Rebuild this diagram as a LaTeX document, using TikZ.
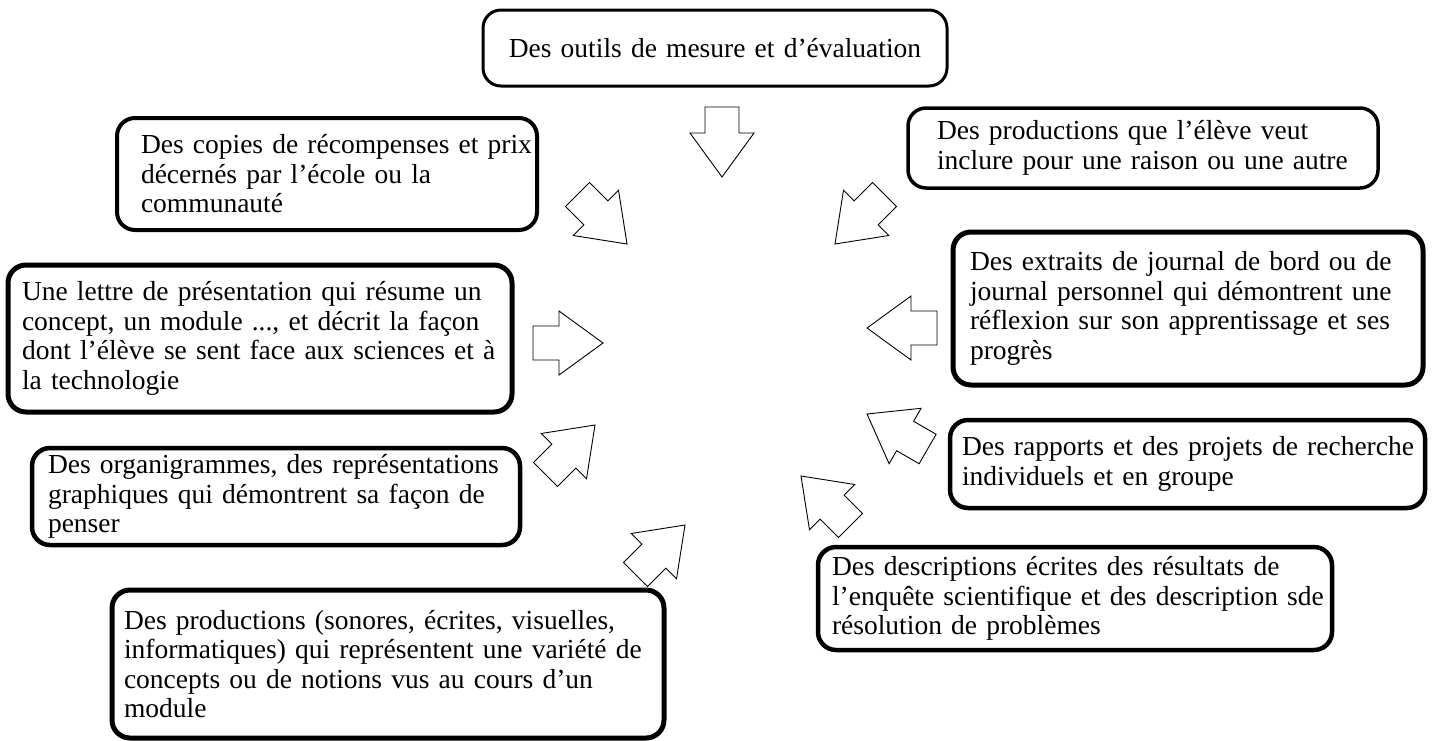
\documentclass[tikz,border=0pt]{standalone}
\usepackage{fontspec}
\setmainfont{Liberation Serif}
\usetikzlibrary{positioning}
\hyphenpenalty=10000
\exhyphenpenalty=10000

\begin{document}
\begin{tikzpicture}[x=1pt, y=-1pt,
        boite/.style={draw, rounded corners=18pt, line width=3.5pt, align=left,
                      inner xsep=0pt, inner ysep=0pt,
                      font=\fontsize{27.5}{29.5}\selectfont},
        retrait/.style={execute at begin node={\leftskip=#1pt\rightskip=-30pt plus 1fil\relax}},
        fleche/.pic={\draw[line width=0.9pt, fill=white] (0,0) -- (-44,32) -- (-44,17)
                     -- (-70,17) -- (-70,-17) -- (-44,-17) -- (-44,-32) -- cycle;}]
    \useasboundingbox (0,0) rectangle (1435,740);

    % les boites
    \node[boite, line width=3pt, align=center, minimum width=464pt, minimum height=76pt,
          text width=458pt] (outils) at (715,48) {Des outils de mesure et d’évaluation};
    \node[boite, line width=4pt, minimum width=420pt, minimum height=112pt,
          text width=416pt, retrait=22] (copies) at (327,174)
        {Des copies de récompenses et prix\\décernés par l’école ou la\\communauté};
    \node[boite, line width=5pt, minimum width=504pt, minimum height=147pt,
          text width=500pt, retrait=12] (lettre) at (260,338.5)
        {Une lettre de présentation qui résume un\\concept, un module ..., et décrit la façon\\dont l’élève se sent face aux sciences et à\\la technologie};
    \node[boite, line width=4.5pt, minimum width=488pt, minimum height=97pt,
          text width=484pt, retrait=14] (organi) at (276,496.5)
        {Des organigrammes, des représentations\\graphiques qui démontrent sa façon de\\penser};
    \node[boite, line width=5pt, minimum width=552pt, minimum height=148pt,
          text width=548pt, retrait=10] (sonores) at (388,664)
        {Des productions (sonores, écrites, visuelles,\\informatiques) qui représentent une variété de\\concepts ou de notions vus au cours d’un\\module};
    \node[boite, minimum width=470pt, minimum height=80pt,
          text width=466pt, retrait=27] (raison) at (1143,148)
        {Des productions que l’élève veut\\inclure pour une raison ou une autre};
    \node[boite, line width=5pt, minimum width=470pt, minimum height=153pt,
          text width=466pt, retrait=15] (journal) at (1188,308.5)
        {Des extraits de journal de bord ou de\\journal personnel qui démontrent une\\réflexion sur son apprentissage et ses\\progrès};
    \node[boite, line width=4.5pt, minimum width=475pt, minimum height=88pt,
          text width=471pt, retrait=10] (rapports) at (1187.5,464)
        {Des rapports et des projets de recherche\\individuels et en groupe};
    \node[boite, line width=4.5pt, minimum width=514pt, minimum height=103pt,
          text width=510pt, retrait=12] (descr) at (1075,598.5)
        {Des descriptions écrites des résultats de\\l’enquête scientifique et des description sde\\résolution de problèmes};

    % les fleches vers le centre
    \pic[rotate=-90] at (722,177) {fleche};
    \pic[rotate=-45] at (627,244) {fleche};
    \pic[rotate=-135] at (835,244) {fleche};
    \pic at (603,343) {fleche};
    \pic[rotate=180] at (867,328) {fleche};
    \pic[rotate=45] at (595,425) {fleche};
    \pic[rotate=45] at (685,525) {fleche};
    \pic[rotate=135] at (801,476) {fleche};
    \pic[rotate=150] at (867,414) {fleche};
\end{tikzpicture}
\end{document}
